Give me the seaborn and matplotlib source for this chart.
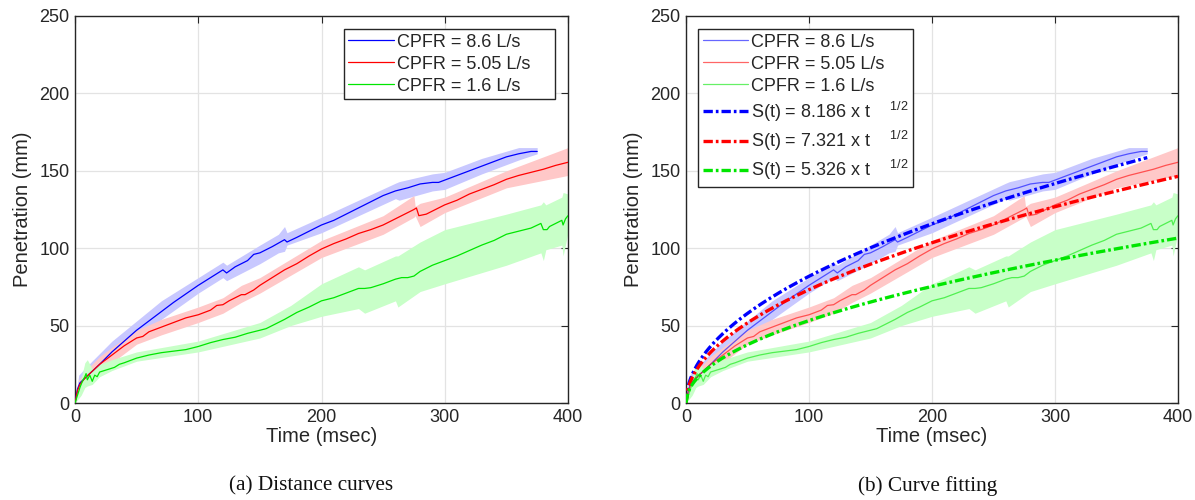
import numpy as np
import pandas as pd
import matplotlib
matplotlib.use("Agg")
import matplotlib.pyplot as plt
import seaborn as sns

# ---------------- data ----------------
series_labels = ["CPFR = 8.6 L/s", "CPFR = 5.05 L/s", "CPFR = 1.6 L/s"]

blue_t = [0, 2, 4, 8, 12, 16, 20, 25, 30, 40, 50, 60, 70, 80, 90, 100, 110, 120, 123, 130,
          140, 145, 150, 160, 170, 172, 180, 190, 200, 210, 220, 230, 240, 250, 260, 270,
          280, 290, 295, 300, 310, 320, 330, 340, 350, 360, 370, 375]
blue_y = [0, 9, 13, 16, 19, 22, 25, 29, 33, 40, 47, 53, 59, 65, 70.5, 76, 81, 86, 84, 88,
          92, 96, 97, 101, 105.5, 104, 107, 111, 115, 118, 122, 126, 130, 134, 137, 139,
          141.5, 142.5, 142.5, 144, 147, 150, 153, 156, 159, 161, 162.5, 162.5]
blue_band_t = [0, 3, 10, 20, 30, 50, 70, 100, 120, 123, 150, 165, 170, 172, 200, 230, 260,
               263, 290, 300, 330, 360, 375]
blue_lo = [0, 8, 13, 20, 28, 41, 54, 71, 81, 79, 90, 97, 98, 102, 110, 121, 132,
           131, 137, 138, 148, 157, 161]
blue_hi = [0, 18, 24, 32, 40, 53, 66, 81, 91, 89, 102, 109, 114, 110, 120, 131, 142,
           143, 148, 149, 158, 165, 165]

red_t = [0, 2, 4, 8, 12, 16, 20, 25, 30, 40, 50, 55, 60, 70, 80, 90, 100, 110, 115, 120,
         125, 135, 138, 145, 150, 160, 170, 180, 190, 200, 210, 220, 230, 240, 250, 260,
         270, 275, 277, 279, 285, 290, 300, 310, 320, 330, 340, 350, 360, 370, 380, 390, 400]
red_y = [0, 8, 12, 16, 19, 22, 25, 28, 31, 37, 42, 43, 46, 49, 52, 55, 57, 60, 63, 63.5,
         66, 70, 70, 73, 76, 81, 86, 90, 95, 99.5, 103, 106, 109.5, 112, 115, 119,
         123, 125, 126, 121, 122, 124, 128, 131, 135, 138, 141, 144.5, 147, 149, 151, 153.5, 155.5]
red_band_t = [0, 3, 10, 20, 30, 50, 70, 100, 120, 135, 150, 200, 250, 275, 276, 280, 300,
              350, 400]
red_lo = [0, 7, 14, 20, 26, 38, 44, 52, 58, 65, 71, 94, 109, 120, 121, 114, 123, 139, 147]
red_hi = [0, 15, 22, 30, 36, 47, 54, 62, 68, 76, 81, 105, 121, 134, 127, 129, 133, 150, 165]

green_t = [0, 2, 4, 6, 8, 9, 10, 12, 14, 16, 18, 20, 24, 28, 32, 36, 40, 50, 60, 70, 80,
           90, 100, 110, 120, 130, 140, 150, 155, 160, 170, 180, 190, 200, 210, 220, 230,
           235, 240, 250, 260, 265, 270, 275, 280, 290, 300, 310, 320, 330, 340, 350, 360,
           370, 378, 380, 383, 385, 390, 395, 396, 398, 400]
green_y = [0, 5, 10, 14, 17, 19, 15, 18, 14, 18, 17, 20, 21, 22, 23, 25, 26, 29, 31, 32.5,
           33.5, 34.5, 36.5, 39, 41, 42.5, 45, 47, 48, 50, 54, 58.5, 62, 66, 68, 71, 74,
           74, 74.5, 77, 80, 81, 81, 82, 85, 89, 92, 95, 98.5, 102, 105, 109, 111,
           113, 116, 112, 112, 114, 116, 118, 115, 119, 121]
green_band_t = [0, 5, 8, 10, 14, 20, 30, 50, 100, 150, 175, 200, 230, 235, 260, 262, 280,
                300, 350, 378, 380, 382, 395, 396, 400]
green_lo = [0, 5, 10, 11, 12, 17, 21, 27, 33, 42, 50, 56, 61, 58, 66, 62, 72,
            77, 89, 97, 92, 99, 102, 95, 110]
green_hi = [0, 16, 26, 28, 22, 25, 28, 33, 40, 52, 63, 77, 88, 86, 95, 95, 104,
            112, 122, 128, 130, 128, 133, 136, 135]

fit_coef = [8.186, 7.321, 5.326]
fit_tmax = [375, 400, 400]
fit_labels = ["S(t) = 8.186 x t    ${}^{1/2}$",
              "S(t) = 7.321 x t    ${}^{1/2}$",
              "S(t) = 5.326 x t    ${}^{1/2}$"]

colors = ["#0000ff", "#ff0000", "#00e600"]
band_colors = ["#c8c8ff", "#ffc8c8", "#c8ffc8"]

# ---------------- style ----------------
sns.set_theme(style="white")
plt.rcParams["font.family"] = ["Liberation Sans", "DejaVu Sans"]
plt.rcParams["mathtext.fontset"] = "custom"
plt.rcParams["mathtext.rm"] = "Liberation Sans"
plt.rcParams["mathtext.it"] = "Liberation Sans:italic"
plt.rcParams["mathtext.bf"] = "Liberation Sans:bold"

W, H = 1195, 500
fig = plt.figure(figsize=(W / 100, H / 100), dpi=100)
axA = fig.add_axes([75 / W, 1 - 403 / H, (568 - 75) / W, (403 - 16) / H])
axB = fig.add_axes([686 / W, 1 - 403 / H, (1178 - 686) / W, (403 - 16) / H])

ts = [blue_t, red_t, green_t]
ys = [blue_y, red_y, green_y]
bts = [blue_band_t, red_band_t, green_band_t]
los = [blue_lo, red_lo, green_lo]
his = [blue_hi, red_hi, green_hi]


def style_axes(ax):
    ax.set_xlim(0, 400)
    ax.set_ylim(0, 250)
    ax.set_xticks([0, 100, 200, 300, 400])
    ax.set_yticks([0, 50, 100, 150, 200, 250])
    ax.grid(True, color="#e3e3e3", linewidth=0.9)
    ax.set_axisbelow(True)
    for s in ax.spines.values():
        s.set_visible(True)
        s.set_color("#262626")
        s.set_linewidth(1.0)
    ax.tick_params(direction="in", length=5, width=0.8, top=True, right=True,
                   labelsize=13, colors="#262626", pad=4)
    ax.set_xlabel("Time (msec)", fontsize=14.5, color="#262626", labelpad=1)
    ax.set_ylabel("Penetration (mm)", fontsize=14.5, color="#262626", labelpad=5)


for ax, alpha_line in [(axA, 1.0), (axB, 0.6)]:
    for i in range(3):
        ax.fill_between(bts[i], los[i], his[i], color=band_colors[i], linewidth=0, zorder=1)
    for i in range(3):
        df = pd.DataFrame({"t": ts[i], "y": ys[i]})
        sns.lineplot(data=df, x="t", y="y", ax=ax, color=colors[i], linewidth=0.9,
                     alpha=alpha_line, label=series_labels[i] + "    ", zorder=3,
                     estimator=None, sort=False)
    style_axes(ax)

for i in range(3):
    tt = np.linspace(0, fit_tmax[i], 300)
    df = pd.DataFrame({"t": tt, "y": fit_coef[i] * np.sqrt(tt)})
    sns.lineplot(data=df, x="t", y="y", ax=axB, color=colors[i], linewidth=2.4,
                 linestyle=(0, (2.8, 0.9, 0.8, 0.9)), label=fit_labels[i], zorder=4,
                 estimator=None, sort=False)

leg_kw = dict(fontsize=13, frameon=True, fancybox=False, edgecolor="#262626", framealpha=1,
              handlelength=2.5, handletextpad=0.2, borderpad=0.25, labelspacing=0.28,
              borderaxespad=0)
legA = axA.legend(loc="upper right", bbox_to_anchor=((555 - 75) / 493, (403 - 29) / 387),
                  **leg_kw)
legA.get_frame().set_linewidth(1.0)
axB.legend().remove()
handles, labels = axB.get_legend_handles_labels()
labels = [l.rstrip() if l.startswith("CPFR") else l for l in labels]
legB = axB.legend(handles, labels, loc="upper left",
                  bbox_to_anchor=((698 - 686) / 492, (403 - 29) / 387), **leg_kw)
legB.get_frame().set_linewidth(1.0)

cap_font = ["Liberation Serif", "DejaVu Serif"]
fig.text(311 / W, 1 - 486 / H, "(a) Distance curves", ha="center", va="center",
         fontsize=15.3, family=cap_font, color="#111111")
fig.text(928 / W, 1 - 486 / H, "(b) Curve fitting", ha="center", va="center",
         fontsize=15.3, family=cap_font, color="#111111")

fig.savefig("out.png", dpi=100)
